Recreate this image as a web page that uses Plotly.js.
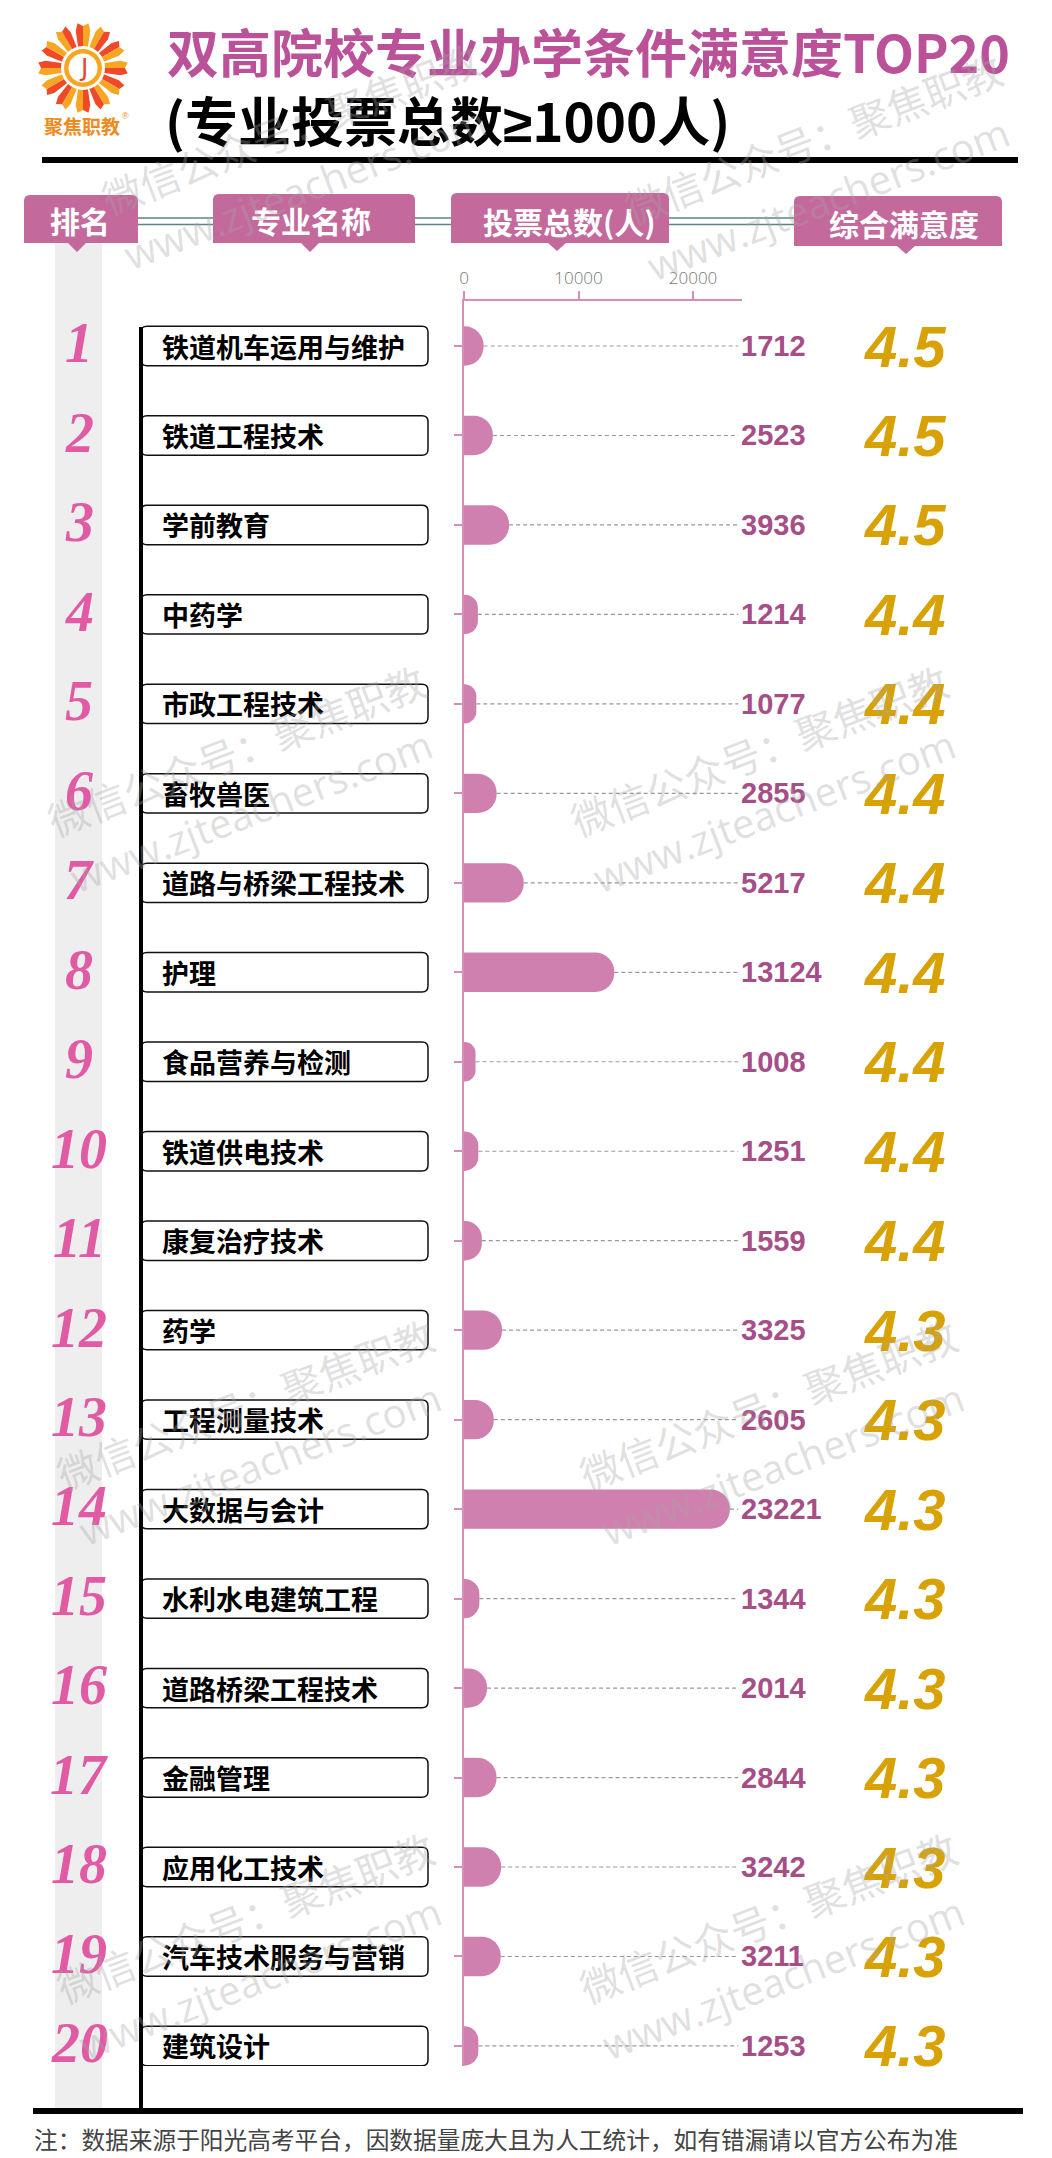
<!DOCTYPE html>
<html><head><meta charset="utf-8">
<script src="https://cdn.plot.ly/plotly-3.0.1.min.js"></script>
<style>html,body{margin:0;padding:0;background:#fff;}#chart{width:1052px;height:2158px;}</style>
</head><body><div id="chart"></div>
<script>
// ---------------- data ----------------
const ranks = [1,2,3,4,5,6,7,8,9,10,11,12,13,14,15,16,17,18,19,20];
const majors = ['铁道机车运用与维护','铁道工程技术','学前教育','中药学','市政工程技术','畜牧兽医','道路与桥梁工程技术','护理','食品营养与检测','铁道供电技术','康复治疗技术','药学','工程测量技术','大数据与会计','水利水电建筑工程','道路桥梁工程技术','金融管理','应用化工技术','汽车技术服务与营销','建筑设计'];
const votes = [1712,2523,3936,1214,1077,2855,5217,13124,1008,1251,1559,3325,2605,23221,1344,2014,2844,3242,3211,1253];
const scores = [4.5,4.5,4.5,4.4,4.4,4.4,4.4,4.4,4.4,4.4,4.4,4.3,4.3,4.3,4.3,4.3,4.3,4.3,4.3,4.3];
const headers = ['排名','专业名称','投票总数(人)','综合满意度'];
const xTickVals = [0,10000,20000];
const xTickText = ['0','10000','20000'];
const titleLine1 = '双高院校专业办学条件满意度TOP20';
const titleLine2Parts = ['(专业投票总数', '≥', '1000人)'];
const footNote = '注：数据来源于阳光高考平台，因数据量庞大且为人工统计，如有错漏请以官方公布为准';
const logoText = '聚焦职教';
const wmLine1 = '微信公众号：聚焦职教';
const wmLine2 = 'www.zjteachers.com';

// ---------------- layout helpers (pixel -> paper) ----------------
const W = 1052, H = 2158;
const X = p => p / W;
const Y = p => 1 - p / H;
const CJK = '"Noto Sans CJK SC", "Noto Sans", sans-serif';

const PINK_HDR = '#c4699c';
const BAR = '#d080ae';
const AXIS_PINK = '#d88cba';

const shapes = [];
const annotations = [];

// title block
annotations.push({xref:'paper', yref:'paper', x:X(165), y:Y(50), xanchor:'left', yanchor:'middle', showarrow:false,
  text:titleLine1, font:{family:CJK, size:52, color:'#bb5299', weight:'bold'}});
annotations.push({xref:'paper', yref:'paper', x:X(163), y:Y(119), xanchor:'left', yanchor:'middle', showarrow:false,
  text:titleLine2Parts[0] + '<span style="font-family:\'Liberation Sans\', Arial, sans-serif">' + titleLine2Parts[1] + '</span>' + titleLine2Parts[2],
  font:{family:CJK, size:53, color:'#000', weight:'bold'}});
shapes.push({type:'line', xref:'paper', yref:'paper', x0:X(42), x1:X(1018), y0:Y(160), y1:Y(160), line:{color:'#000', width:6}});

// logo (sunflower)
(function(){
  const cx = 83, cy = 68;
  const red = '#ee4a28', orange = '#f7a623';
  for (let k = 0; k < 12; k++) {
    const t = (k * 30 - 90) * Math.PI / 180;
    const pt = (r, da) => { const a = t + da * Math.PI / 180; return [cx + r * Math.cos(a), cy + r * Math.sin(a)]; };
    const base = 19, mid = 38, tip = 45;
    const halfL = [pt(base,0), pt(base,-14), pt(mid,-11), pt(tip,-7), pt(tip-3,0)];
    const halfR = [pt(base,0), pt(base,14), pt(mid,11), pt(tip,7), pt(tip-3,0)];
    const toPath = pts => 'M ' + pts.map(p => X(p[0]) + ',' + Y(p[1])).join(' L ') + ' Z';
    shapes.push({type:'path', xref:'paper', yref:'paper', path:toPath(halfL), fillcolor:(k%2? orange: red), line:{width:0}});
    shapes.push({type:'path', xref:'paper', yref:'paper', path:toPath(halfR), fillcolor:(k%2? red: orange), line:{width:0}});
  }
  shapes.push({type:'circle', xref:'paper', yref:'paper', x0:X(cx-22), x1:X(cx+22), y0:Y(cy+22), y1:Y(cy-22), fillcolor:'#fff', line:{width:0}});
  shapes.push({type:'circle', xref:'paper', yref:'paper', x0:X(cx-19), x1:X(cx+19), y0:Y(cy+19), y1:Y(cy-19), fillcolor:orange, line:{width:0}});
  shapes.push({type:'circle', xref:'paper', yref:'paper', x0:X(cx-14.5), x1:X(cx+14.5), y0:Y(cy+14.5), y1:Y(cy-14.5), fillcolor:'#fff', line:{width:0}});
  annotations.push({xref:'paper', yref:'paper', x:X(cx), y:Y(cy), xanchor:'center', yanchor:'middle', showarrow:false,
    text:'J', font:{family:'"DejaVu Sans", sans-serif', size:25, color:'#e8472a'}});
  annotations.push({xref:'paper', yref:'paper', x:X(82), y:Y(126), xanchor:'center', yanchor:'middle', showarrow:false,
    text:logoText, font:{family:CJK, size:19, color:'#f08a1c', weight:'bold'}});
  annotations.push({xref:'paper', yref:'paper', x:X(125), y:Y(116), xanchor:'center', yanchor:'middle', showarrow:false,
    text:'®', font:{family:'"Liberation Sans", sans-serif', size:9, color:'#f08a1c'}});
})();

// header boxes
const hdrBoxes = [
  {x0:24, x1:138, yt:195, yb:243, tx:77, ty:252, cx:80, cy:220},
  {x0:213, x1:415, yt:194, yb:243, tx:310, ty:252, cx:311, cy:220},
  {x0:451, x1:669, yt:193, yb:243, tx:557, ty:251, cx:569, cy:221},
  {x0:794, x1:1002, yt:196, yb:246, tx:906, ty:254, cx:904, cy:223}
];
shapes.push({type:'line', xref:'paper', yref:'paper', x0:X(138), x1:X(794), y0:Y(218), y1:Y(218), line:{color:'#5b8585', width:1.5}});
shapes.push({type:'line', xref:'paper', yref:'paper', x0:X(138), x1:X(794), y0:Y(224.5), y1:Y(224.5), line:{color:'#5b8585', width:1.5}});
// gray rank strip
shapes.push({type:'rect', xref:'paper', yref:'paper', x0:X(55), x1:X(102), y0:Y(2108), y1:Y(243), fillcolor:'#eeeeee', line:{width:0}, layer:'below'});
hdrBoxes.forEach((b, i) => {
  const r = 6;
  const p = [
    'M', X(b.x0), Y(b.yb), 'L', X(b.x0), Y(b.yt + r), 'Q', X(b.x0), Y(b.yt), X(b.x0 + r), Y(b.yt),
    'L', X(b.x1 - r), Y(b.yt), 'Q', X(b.x1), Y(b.yt), X(b.x1), Y(b.yt + r),
    'L', X(b.x1), Y(b.yb), 'L', X(b.tx + 9), Y(b.yb), 'L', X(b.tx), Y(b.ty), 'L', X(b.tx - 9), Y(b.yb), 'Z'
  ].join(' ');
  shapes.push({type:'path', xref:'paper', yref:'paper', path:p, fillcolor:PINK_HDR, line:{width:0}});
  annotations.push({xref:'paper', yref:'paper', x:X(b.cx), y:Y(b.cy), xanchor:'center', yanchor:'middle', showarrow:false,
    text:headers[i], font:{family:CJK, size:30, color:'#fff', weight:'bold'}});
});

// name boxes (per row, positioned on the y axis)
const half = 0.22, rx = 6 / W, ry = 6 / 89.47;
ranks.forEach((r, i) => {
  const x0 = X(141), x1 = X(428), y0 = r - half, y1 = r + half;
  const p = `M ${x0+rx},${y0} L ${x1-rx},${y0} Q ${x1},${y0} ${x1},${y0+ry} L ${x1},${y1-ry} Q ${x1},${y1} ${x1-rx},${y1} L ${x0+rx},${y1} Q ${x0},${y1} ${x0},${y1-ry} L ${x0},${y0+ry} Q ${x0},${y0} ${x0+rx},${y0} Z`;
  shapes.push({type:'path', xref:'paper', yref:'y', path:p, fillcolor:'#fff', line:{color:'#111', width:1.5}});
  annotations.push({xref:'paper', yref:'y', x:X(160), y:r, xanchor:'left', yanchor:'middle', showarrow:false,
    text:majors[i], font:{family:CJK, size:27, color:'#000', weight:'bold'}});
  annotations.push({xref:'paper', yref:'y', x:X(79), y:r - 0.03, xanchor:'center', yanchor:'middle', showarrow:false,
    text:String(r), font:{family:'"Liberation Serif", "DejaVu Serif", serif', size:56, color:'#e05aa4', weight:'bold', style:'italic'}});
  annotations.push({xref:'paper', yref:'y', x:X(739), y:r, xanchor:'left', yanchor:'middle', showarrow:false,
    text:String(votes[i]), font:{family:'"Liberation Sans", Arial, sans-serif', size:29, color:'#a64f87', weight:'bold'}});
  annotations.push({xref:'paper', yref:'y', x:X(905), y:r, xanchor:'center', yanchor:'middle', showarrow:false,
    text:scores[i].toFixed(1), font:{family:'"Liberation Sans", Arial, sans-serif', size:58, color:'#d9a204', weight:'bold', style:'italic'}});
});
// black vertical line
shapes.push({type:'line', xref:'paper', yref:'paper', x0:X(141), x1:X(141), y0:Y(327), y1:Y(2111), line:{color:'#000', width:4}});
// bottom line and footnote
shapes.push({type:'line', xref:'paper', yref:'paper', x0:X(33), x1:X(1023), y0:Y(2111), y1:Y(2111), line:{color:'#000', width:6}});
annotations.push({xref:'paper', yref:'paper', x:X(32), y:Y(2139), xanchor:'left', yanchor:'middle', showarrow:false,
  text:footNote, font:{family:CJK, size:23.7, color:'#444'}});

// watermarks
const wmGroups = [[290,128],[813,138],[236,750],[759,750],[245,1404],[768,1404],[245,1917],[768,1917]];
wmGroups.forEach(g => {
  annotations.push({xref:'paper', yref:'paper', x:X(g[0]), y:Y(g[1]), xanchor:'center', yanchor:'middle', showarrow:false, textangle:-21,
    text:wmLine1, font:{family:CJK, size:40, color:'rgba(165,165,165,0.35)'}});
  annotations.push({xref:'paper', yref:'paper', x:X(g[0]+15), y:Y(g[1]+60), xanchor:'center', yanchor:'middle', showarrow:false, textangle:-21,
    text:wmLine2, font:{family:'"Open Sans", "DejaVu Sans", sans-serif', size:40, color:'rgba(165,165,165,0.35)'}});
});

// ---------------- traces ----------------
const dashX = [], dashY = [];
votes.forEach((v, i) => { dashX.push(v, 23950, null); dashY.push(ranks[i], ranks[i], null); });

const traces = [
  {type:'scatter', mode:'lines', x:dashX, y:dashY, line:{color:'#999', width:1.2, dash:'4px,3px'}, hoverinfo:'skip', cliponaxis:false},
  {type:'bar', orientation:'h', x:votes, y:ranks, width:0.44, marker:{color:BAR, cornerradius:19, line:{width:0}}, hoverinfo:'x'}
];

const layout = {
  width: W, height: H,
  margin:{l:0, r:0, t:0, b:0, pad:0},
  paper_bgcolor:'#fff', plot_bgcolor:'rgba(0,0,0,0)',
  showlegend:false,
  xaxis:{domain:[X(464), X(741.7)], range:[0, 24250], side:'top', anchor:'y',
    showline:true, linecolor:AXIS_PINK, linewidth:2, ticks:'outside', ticklen:8, tickwidth:2, tickcolor:AXIS_PINK,
    tickvals:xTickVals, ticktext:xTickText, tickfont:{family:'"Open Sans", sans-serif', size:17, color:'#777', weight:300},
    showgrid:false, zeroline:false, fixedrange:true},
  yaxis:{domain:[Y(2066), Y(301)], range:[20.224, 0.497], anchor:'x',
    showline:true, linecolor:AXIS_PINK, linewidth:2, ticks:'outside', ticklen:8, tickwidth:2, tickcolor:AXIS_PINK,
    tickvals:ranks, showticklabels:false, showgrid:false, zeroline:false, fixedrange:true},
  shapes: shapes,
  annotations: annotations
};

Plotly.newPlot('chart', traces, layout, {displayModeBar:false, staticPlot:true});
</script>
</body></html>
